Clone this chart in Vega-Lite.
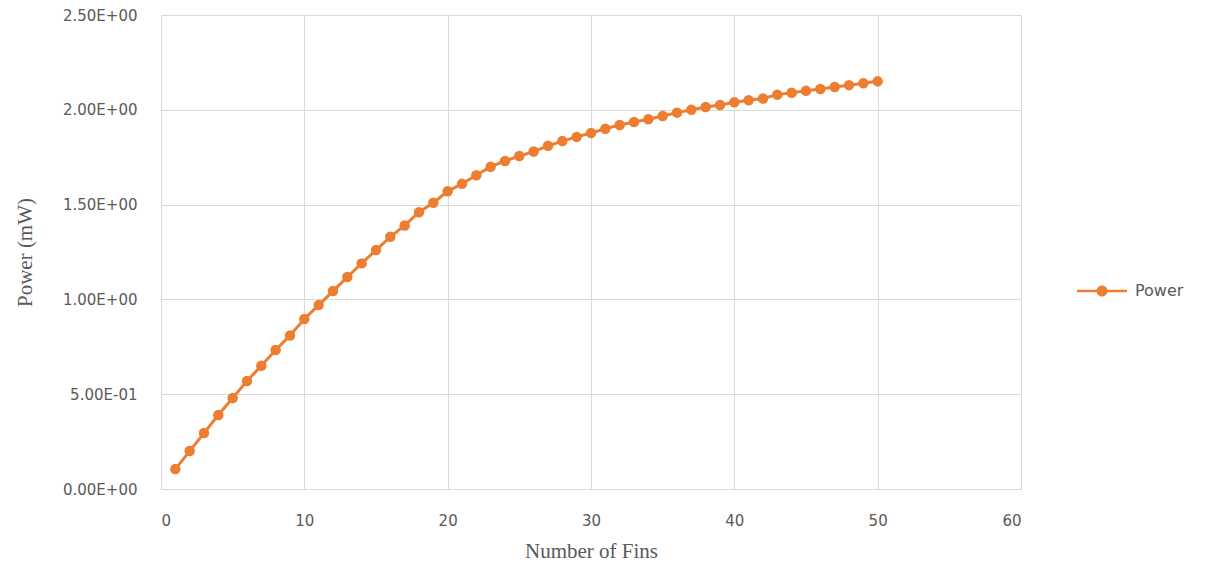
{
  "$schema": "https://vega.github.io/schema/vega-lite/v6.json",
  "width": 860,
  "height": 474,
  "autosize": {"type": "none"},
  "padding": {"left": 161, "top": 15, "right": 191, "bottom": 73},
  "background": "#ffffff",
  "config": {
    "view": {"stroke": null},
    "axis": {
      "gridColor": "#D9D9D9",
      "gridWidth": 1,
      "ticks": false,
      "domain": false,
      "labelFont": "DejaVu Sans",
      "labelFontSize": 15,
      "labelColor": "#595959",
      "titleFont": "Liberation Serif",
      "titleFontSize": 21,
      "titleFontWeight": "normal",
      "titleColor": "#595959"
    }
  },
  "data": {
    "values": [
      {"fins": 1, "power": 0.105},
      {"fins": 2, "power": 0.2},
      {"fins": 3, "power": 0.295},
      {"fins": 4, "power": 0.39},
      {"fins": 5, "power": 0.48},
      {"fins": 6, "power": 0.57},
      {"fins": 7, "power": 0.65},
      {"fins": 8, "power": 0.733},
      {"fins": 9, "power": 0.81},
      {"fins": 10, "power": 0.897},
      {"fins": 11, "power": 0.97},
      {"fins": 12, "power": 1.044},
      {"fins": 13, "power": 1.118},
      {"fins": 14, "power": 1.19},
      {"fins": 15, "power": 1.26},
      {"fins": 16, "power": 1.33},
      {"fins": 17, "power": 1.39},
      {"fins": 18, "power": 1.46},
      {"fins": 19, "power": 1.51},
      {"fins": 20, "power": 1.57},
      {"fins": 21, "power": 1.61},
      {"fins": 22, "power": 1.655},
      {"fins": 23, "power": 1.7},
      {"fins": 24, "power": 1.73},
      {"fins": 25, "power": 1.756},
      {"fins": 26, "power": 1.78},
      {"fins": 27, "power": 1.81},
      {"fins": 28, "power": 1.835},
      {"fins": 29, "power": 1.857},
      {"fins": 30, "power": 1.878},
      {"fins": 31, "power": 1.9},
      {"fins": 32, "power": 1.92},
      {"fins": 33, "power": 1.936},
      {"fins": 34, "power": 1.95},
      {"fins": 35, "power": 1.967},
      {"fins": 36, "power": 1.985},
      {"fins": 37, "power": 2.0},
      {"fins": 38, "power": 2.015},
      {"fins": 39, "power": 2.025},
      {"fins": 40, "power": 2.04},
      {"fins": 41, "power": 2.05},
      {"fins": 42, "power": 2.06},
      {"fins": 43, "power": 2.08},
      {"fins": 44, "power": 2.09},
      {"fins": 45, "power": 2.1},
      {"fins": 46, "power": 2.11},
      {"fins": 47, "power": 2.12},
      {"fins": 48, "power": 2.13},
      {"fins": 49, "power": 2.14},
      {"fins": 50, "power": 2.15}
    ]
  },
  "mark": {
    "type": "line",
    "strokeWidth": 3,
    "point": {"filled": true, "size": 110}
  },
  "encoding": {
    "x": {
      "field": "fins",
      "type": "quantitative",
      "scale": {"domain": [0, 60], "nice": false},
      "axis": {
        "title": "Number of Fins",
        "values": [0, 10, 20, 30, 40, 50, 60],
        "labelPadding": 24,
        "titlePadding": 12,
        "domain": true,
        "domainColor": "#D9D9D9",
        "domainWidth": 1
      }
    },
    "y": {
      "field": "power",
      "type": "quantitative",
      "scale": {"domain": [0, 2.5], "nice": false},
      "axis": {
        "title": "Power (mW)",
        "values": [0, 0.5, 1, 1.5, 2, 2.5],
        "labelPadding": 24,
        "titlePadding": 27,
        "labelExpr": "datum.value == 0 ? '0.00E+00' : (datum.value < 1 ? format(datum.value * 10, '.2f') + 'E-01' : format(datum.value, '.2f') + 'E+00')"
      }
    },
    "color": {
      "datum": "Power",
      "type": "nominal",
      "scale": {"range": ["#ED7D31"]},
      "legend": {
        "title": null,
        "orient": "none",
        "legendX": 916,
        "legendY": 251,
        "symbolType": "M-1,-0.05H1V0.05H-1Z M0.22,0A0.22,0.22,0,1,1,-0.22,0A0.22,0.22,0,1,1,0.22,0Z",
        "symbolSize": 2500,
        "symbolFillColor": "#ED7D31",
        "symbolStrokeWidth": 0,
        "labelFont": "DejaVu Sans",
        "labelFontSize": 16,
        "labelColor": "#595959",
        "labelOffset": 8,
        "encode": {
          "symbols": {"update": {"fill": {"value": "#ED7D31"}, "strokeWidth": {"value": 0}}}
        }
      }
    }
  }
}
